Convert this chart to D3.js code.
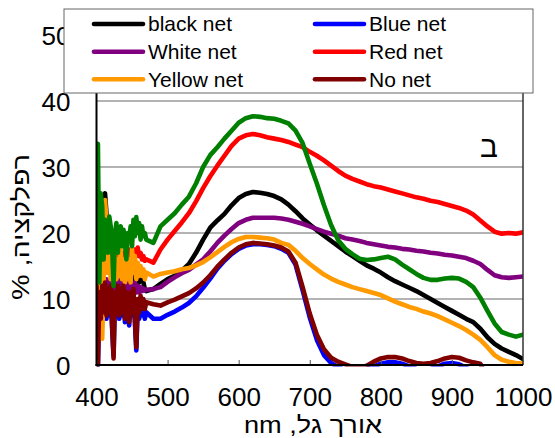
<!DOCTYPE html>
<html>
<head>
<meta charset="utf-8">
<script src="https://cdn.jsdelivr.net/npm/d3@7"></script>
<style>
  html, body { margin: 0; padding: 0; background: #fff; }
  svg { display: block; font-family: "Liberation Sans", Arial, sans-serif; }
</style>
</head>
<body>
<svg id="chart" width="555" height="438"></svg>
<script>
// Sampling grid (nm): fine steps through the noisy blue end, 10 nm afterwards
const wavelengths = d3.range(400, 471, 2).concat(d3.range(480, 1001, 10));

// Reflectance (%) per net colour, one value per wavelength above
const greenNet = [
  30,33.5,12.5,26,24,16,22,20,17,22.5,
  21,18,12,20,21.5,17,20.5,21,18,20.5,
  18.5,16,20,19,21,18,22,19.5,22.4,20,
  21.5,19,21,19.5,20,19,
  18.5,21,22,23,24.3,25.5,27.5,30,31.8,33,
  34.3,35.5,36.7,37.4,37.7,37.6,37.4,37.3,37,36.6,
  35.5,33.6,30.5,27.5,24.2,21.2,18.9,17.6,16.8,16.1,
  15.9,16.0,16.2,16.4,16.0,15.2,14.5,13.8,13.2,12.9,
  12.9,13.1,13.2,13.1,12.6,11.8,10.2,8.2,6.3,5.0,
  4.6,4.3,4.6
];
const redNet = [
  15,17,13,16,14,17.5,15,16.5,14,17,
  15,16.5,13.5,16,15,17,14.5,16.5,15,17,
  15.5,16.5,15,17.5,16,17.5,16,17.5,16.5,17.8,
  16.5,17,16,16.5,15.8,16,
  15.5,17.5,19,20.3,21.6,23,24.8,26.8,28.6,30.2,
  31.7,33.2,34.3,34.8,35,34.8,34.5,34.3,34.1,33.8,
  33.4,33,32.3,31.7,31,30.2,29.4,28.7,28.2,27.8,
  27.4,27.1,26.9,26.6,26.3,26,25.7,25.4,25.2,24.9,
  24.7,24.4,24.1,23.8,23.4,22.8,21.9,21,20.2,19.9,
  20,19.9,20.1
];
const blackNet = [
  18,22,15,23,24.5,25.5,26,23,15.5,16.5,
  14,16,13,16.5,13.5,15.5,13.5,16.5,13,15.5,
  13,16,13,15.5,12.5,16,13,15,12.5,14,
  12.5,13.5,12.9,12.5,11.5,11.2,
  11.5,12.3,13,13.5,14.3,15.3,17,19,20.8,21.9,
  22.9,24.2,25.3,25.9,26.2,26.1,25.9,25.6,25.1,24.3,
  23.3,22.2,21.3,20.4,19.6,18.8,18,17.2,16.5,15.8,
  15.1,14.6,14,13.3,12.7,12.2,11.7,11.2,10.6,10,
  9.4,8.8,8.2,7.6,7,6.5,5.5,4.2,3.2,2.5,
  2,1.5,0.9
];
const whiteNet = [
  10,12,8,13,9,12.5,10,13,9.5,12.5,
  10,13,9,12.5,10,13,9.5,12.5,10,13,
  10,12.5,10.5,12.5,10.5,12.5,11,12.5,11,12,
  11,11.8,11.2,11.6,11.3,11.4,
  11.5,11.8,12.6,13.3,13.9,14.4,15.2,16,17.2,18.5,
  19.6,20.6,21.5,22,22.3,22.3,22.3,22.3,22.2,22,
  21.7,21.4,21,20.6,20.2,19.9,19.6,19.2,19,18.8,
  18.5,18.3,18.1,17.9,17.8,17.6,17.5,17.3,17.2,17,
  16.9,16.7,16.6,16.4,16.2,15.8,15.3,14.4,13.6,13.3,
  13.2,13.3,13.4
];
const yellowNet = [
  14,5,17,21,4,12,25,22,14,17,
  13,16.5,12.5,17,13,16,13.5,17.5,13,16,
  12.5,17,13,16,12.5,17.5,14,16.5,13,15.5,
  13.5,15,13.5,14.5,13,14,
  13.4,13.8,14,14.2,14.5,14.7,15.1,15.6,16.3,17.1,
  17.9,18.6,19.1,19.4,19.4,19.3,19.2,19,18.5,18.2,
  17.3,16.2,15.3,14.5,13.7,13.1,12.6,12.2,11.8,11.5,
  11.2,10.9,10.6,10.1,9.6,9.2,8.8,8.5,8.1,7.8,
  7.4,6.9,6.4,5.9,5.3,4.6,3.8,2.7,1.5,0.8,
  0.5,0.3,0.2
];
const noNet = [
  12,0,11,7,12,8,12.5,7.5,11.5,8,
  12,6,1,11,8,12,7.5,11.5,8,12,
  7,11,8,6.5,11,8,11.5,7,2.7,10,
  8,10.5,8.5,10,8.5,9.5,
  9.2,9,9.5,9.9,10.4,10.9,11.6,12.5,13.6,14.9,
  16,17,17.8,18.3,18.5,18.4,18.3,18.1,17.8,17.2,
  15.5,11.8,7.8,4.6,2.4,1.1,0.5,0.1,-0.3,-0.4,
  -0.1,0.5,1,1.2,1.2,1,0.6,0.3,0.2,0.3,
  0.6,1,1.2,1.1,0.7,0.4,0.2,-2,-3,-3,
  -3,-3,-3
];
const blueNet = [
  11,0,10,6.5,11,7.5,11.5,7,11,7.5,
  11,5.5,1.5,10.5,7.5,11,7,11,7.5,11,
  6.5,10.5,7.5,6,10.5,7.5,10.5,6.5,2.2,9,
  7,9,7.5,8.5,7,8,
  7,7,7.6,8.1,8.7,9.4,10.4,11.7,13.1,14.6,
  15.8,16.8,17.6,18.1,18.3,18.3,18.2,18,17.6,17,
  15.2,11.3,7.2,3.8,1.5,0.3,-0.3,-0.8,-1,-0.9,
  -0.6,-0.2,0.2,0.4,0.4,0.2,-0.2,-0.6,-0.8,-0.6,
  -0.2,0.2,0.3,0.1,-0.4,-1,-1.5,-3,-3,-3,
  -3,-3,-3
];

const xTicks = [400, 500, 600, 700, 800, 900, 1000];
const yTicks = [0, 10, 20, 30, 40, 50];
const gridTicks = [10, 20, 30, 40];

// Drawing order, bottom to top
const series = [
  { name: "Blue net",   values: blueNet,   color: "#0000ff" },
  { name: "black net",  values: blackNet,  color: "#000000" },
  { name: "White net",  values: whiteNet,  color: "#800080" },
  { name: "Red net",    values: redNet,    color: "#ff0000" },
  { name: "Yellow net", values: yellowNet, color: "#ff9a00" },
  { name: "No net",     values: noNet,     color: "#800000" },
  { name: "Green net",  values: greenNet,  color: "#008000" }
];

// Legend layout: two columns, three rows (the green curve has no entry)
const legendEntries = [
  ["black net", "#000000"], ["White net", "#800080"], ["Yellow net", "#ff9a00"],
  ["Blue net", "#0000ff"], ["Red net", "#ff0000"], ["No net", "#800000"]
];

const svg = d3.select("#chart");
const plotLeft = 96.5, plotRight = 523, plotTop = 35, plotBottom = 365;

const x = d3.scaleLinear().domain([400, 1000]).range([plotLeft, plotRight]);
const y = d3.scaleLinear().domain([0, 50]).range([plotBottom, plotTop]);

// Horizontal grid
svg.append("g")
  .selectAll("line")
  .data(gridTicks)
  .join("line")
  .attr("x1", plotLeft).attr("x2", plotRight)
  .attr("y1", d => y(d)).attr("y2", d => y(d))
  .attr("stroke", "#9a9a9a").attr("stroke-width", 1.5);

// Clip for the curves
svg.append("defs").append("clipPath").attr("id", "plotClip")
  .append("rect")
  .attr("x", plotLeft).attr("y", plotTop)
  .attr("width", plotRight - plotLeft).attr("height", plotBottom - plotTop + 1.5);

const line = d3.line()
  .x((d, i) => x(wavelengths[i]))
  .y(d => y(d));

svg.append("g")
  .attr("clip-path", "url(#plotClip)")
  .selectAll("path")
  .data(series)
  .join("path")
  .attr("d", d => line(d.values))
  .attr("fill", "none")
  .attr("stroke", d => d.color)
  .attr("stroke-width", 4.6)
  .attr("stroke-linejoin", "round")
  .attr("stroke-linecap", "round");

// Right frame edge
svg.append("line")
  .attr("x1", plotRight).attr("x2", plotRight)
  .attr("y1", plotTop).attr("y2", plotBottom)
  .attr("stroke", "#333").attr("stroke-width", 1.5);

// X axis with inward ticks
const xAxis = d3.axisBottom(x)
  .tickValues(xTicks)
  .tickSize(-5)
  .tickSizeOuter(0)
  .tickPadding(22.5)
  .tickFormat(d3.format("d"));

const gx = svg.append("g")
  .attr("transform", `translate(0,${plotBottom})`)
  .call(xAxis);
gx.select(".domain").remove();
gx.selectAll(".tick line").attr("stroke", "#555").attr("stroke-width", 1);
gx.selectAll(".tick text")
  .attr("fill", "#000")
  .style("font-size", "26px")
  .style("font-family", "'Liberation Sans', Arial, sans-serif");

// Y axis labels
const yAxis = d3.axisLeft(y)
  .tickValues(yTicks)
  .tickSize(0)
  .tickPadding(26)
  .tickFormat(d3.format("d"));

const gy = svg.append("g")
  .attr("transform", `translate(${plotLeft},0)`)
  .call(yAxis);
gy.select(".domain").remove();
gy.selectAll(".tick text")
  .attr("fill", "#000")
  .attr("dy", "0.36em")
  .style("font-size", "26px")
  .style("font-family", "'Liberation Sans', Arial, sans-serif");

// Axis lines
svg.append("line")
  .attr("x1", plotLeft).attr("x2", plotLeft)
  .attr("y1", plotTop).attr("y2", plotBottom + 1)
  .attr("stroke", "#000").attr("stroke-width", 2);
svg.append("line")
  .attr("x1", plotLeft - 1).attr("x2", plotRight)
  .attr("y1", plotBottom).attr("y2", plotBottom)
  .attr("stroke", "#000").attr("stroke-width", 2);

// Axis titles (right-to-left paragraphs)
svg.append("text")
  .attr("x", 313).attr("y", 433)
  .attr("text-anchor", "middle")
  .attr("direction", "rtl")
  .attr("textLength", 138)
  .attr("lengthAdjust", "spacingAndGlyphs")
  .style("direction", "rtl")
  .style("unicode-bidi", "embed")
  .style("font-size", "23px")
  .text("אורך גל, nm");

svg.append("text")
  .attr("transform", "translate(29,227) rotate(-90)")
  .attr("text-anchor", "middle")
  .attr("direction", "rtl")
  .attr("textLength", 146)
  .attr("lengthAdjust", "spacingAndGlyphs")
  .style("direction", "rtl")
  .style("unicode-bidi", "embed")
  .style("font-size", "24px")
  .text("רפלקציה, %");

// Panel letter
svg.append("text")
  .attr("x", 489).attr("y", 157)
  .attr("text-anchor", "middle")
  .style("font-size", "30px")
  .text("ב");

// Legend box
const legend = svg.append("g");
legend.append("rect")
  .attr("x", 64).attr("y", 9)
  .attr("width", 469).attr("height", 84)
  .attr("fill", "#fff")
  .attr("stroke", "#666").attr("stroke-width", 1);

const rowY = [24, 51.7, 79.3];
const colX = [94, 315];
const items = legend.selectAll("g.item")
  .data(legendEntries)
  .join("g")
  .attr("class", "item")
  .attr("transform", (d, i) => `translate(${colX[Math.floor(i / 3)]},${rowY[i % 3]})`);

items.append("line")
  .attr("x1", 0).attr("x2", 49)
  .attr("stroke", d => d[1])
  .attr("stroke-width", 4.6)
  .attr("stroke-linecap", "round");

items.append("text")
  .attr("x", 54).attr("y", 7.3)
  .style("font-size", "21px")
  .text(d => d[0]);
</script>
</body>
</html>
